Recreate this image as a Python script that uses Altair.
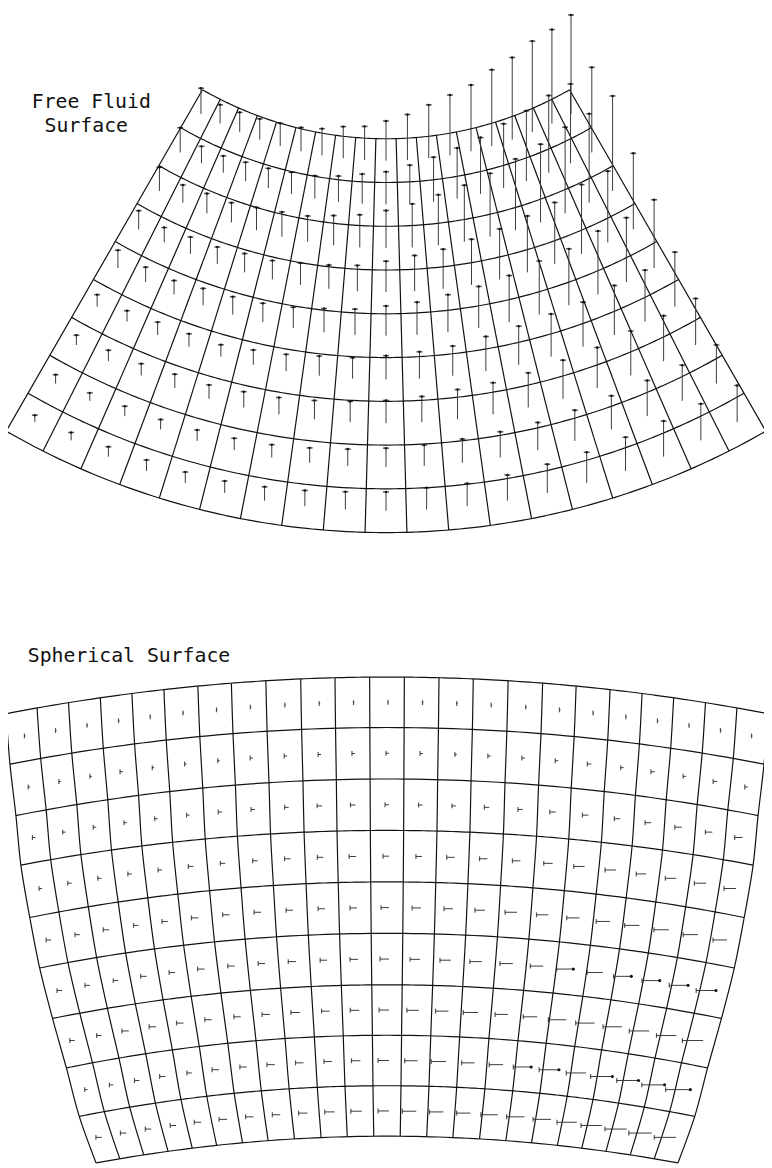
import math
import altair as alt
import pandas as pd

# ---------------- data ----------------
LABEL_TOP = ["Free Fluid", "Surface"]
LABEL_BOTTOM = ["Spherical Surface"]

# Free fluid surface: upward vector length in each cell (9 rows from surface down, 19 columns left->right)
FREE_LEN = [
    [26, 19, 20, 21, 23, 24, 27, 32, 34, 40, 46, 54, 61, 67, 77, 83, 92, 95, 100],
    [25, 17, 17, 19, 20, 22, 23, 26, 30, 33, 39, 45, 51, 57, 65, 71, 78, 80, 86],
    [24, 18, 20, 20, 23, 25, 26, 30, 33, 38, 44, 51, 57, 64, 72, 79, 87, 90, 96],
    [19, 15, 17, 17, 19, 19, 22, 24, 26, 31, 36, 40, 46, 51, 57, 62, 70, 72, 77],
    [18, 15, 14, 17, 18, 19, 21, 24, 26, 30, 33, 38, 42, 47, 54, 57, 64, 65, 69],
    [12, 11, 13, 13, 12, 15, 17, 20, 21, 24, 27, 30, 35, 39, 43, 45, 50, 52, 55],
    [10, 11, 12, 14, 14, 16, 17, 19, 21, 23, 26, 30, 32, 35, 39, 41, 45, 46, 47],
    [9, 8, 10, 10, 11, 12, 13, 15, 17, 19, 21, 24, 26, 28, 31, 34, 36, 36, 39],
    [7, 8, 10, 11, 11, 12, 14, 16, 18, 19, 22, 23, 26, 29, 31, 34, 36, 37, 37],
]

# Spherical surface: horizontal vector length in each cell (9 rows top->bottom, 23 columns)
SPH_LEN = [
    [1, 1, 1, 1, 1, 1, 1, 1, 1, 1, 1, 1, 1, 1, 1, 1, 1, 1, 1, 1, 1, 1, 1],
    [2, 2, 2, 3, 2, 2, 2, 3, 3, 3, 3, 3, 3, 2, 3, 3, 3, 4, 3, 4, 3, 4, 3],
    [3, 3, 3, 3, 3, 3, 4, 4, 4, 5, 5, 4, 4, 4, 5, 5, 6, 6, 6, 6, 7, 7, 8],
    [3, 4, 4, 4, 4, 5, 5, 5, 6, 6, 7, 6, 6, 8, 8, 8, 9, 11, 11, 10, 11, 12, 12],
    [5, 5, 6, 5, 6, 7, 7, 7, 7, 7, 7, 8, 9, 9, 10, 12, 12, 13, 14, 15, 15, 15, 14],
    [5, 5, 5, 6, 6, 7, 7, 7, 8, 7, 8, 9, 10, 11, 12, 13, 13, 17, 16, 18, 18, 19, 20],
    [5, 5, 7, 7, 7, 7, 7, 8, 9, 8, 9, 10, 12, 13, 15, 13, 14, 18, 19, 19, 20, 20, 21],
    [3, 4, 5, 6, 5, 7, 7, 8, 8, 8, 9, 11, 13, 15, 13, 14, 18, 20, 20, 22, 22, 23, 25],
    [6, 6, 6, 6, 7, 8, 8, 8, 9, 10, 11, 11, 14, 14, 14, 17, 18, 18, 20, 21, 22, 23, 22],
]
# cells of the spherical surface whose vector carries a dot at its origin (row, column)
SPH_DOT_ROW = [5, 5, 5, 5, 5, 7, 7, 7, 7, 7, 7]
SPH_DOT_COL = [17, 19, 20, 21, 22, 16, 17, 19, 20, 21, 22]

# ---- grid geometry (drawing units) ----
# free surface mesh: annular sector, centre above
FREE_CENTER = (390.0, -238.0)
FREE_RADII = (372.0, 770.0)
FREE_HALF_ANGLE = 29.9
FREE_NCOL, FREE_NROW = 19, 9

# spherical mesh: parallels (arcs) and meridians
SPH_CX = 391.0
SPH_ARC_Y = [678, 729, 781, 833, 885, 937, 989, 1040, 1091, 1142]     # height of each parallel on the axis
SPH_ARC_SAG = [37, 37, 37, 35, 36, 35, 34, 33, 31, 27]                # drop of each parallel at the edge
SPH_HALF_W = [385, 381, 375, 370, 361, 351, 338, 324, 311, 294]        # half width of each parallel
SPH_EDGE_U = [0.0455, 0.1365, 0.2265, 0.318, 0.4085, 0.4965, 0.5855,
              0.6695, 0.7525, 0.836, 0.9185, 1.0]                      # meridian positions (fraction of half width)


# ---------------- geometry helpers ----------------
def free_xy(r, phi):
    a = math.radians(phi)
    return FREE_CENTER[0] + r * math.sin(a), FREE_CENTER[1] + r * math.cos(a)


def sph_xy(k, u):
    """k: parallel index (may be fractional), u: position across (-1..1)."""
    k0 = min(int(math.floor(k)), len(SPH_ARC_Y) - 2)
    t = k - k0
    w = SPH_HALF_W[k0] * (1 - t) + SPH_HALF_W[k0 + 1] * t
    yc = SPH_ARC_Y[k0] * (1 - t) + SPH_ARC_Y[k0 + 1] * t
    sg = SPH_ARC_SAG[k0] * (1 - t) + SPH_ARC_SAG[k0 + 1] * t
    return SPH_CX + w * u, yc + sg * u * u


free_phi = [-FREE_HALF_ANGLE + k * 2 * FREE_HALF_ANGLE / FREE_NCOL for k in range(FREE_NCOL + 1)]
free_r = [FREE_RADII[0] + k * (FREE_RADII[1] - FREE_RADII[0]) / FREE_NROW for k in range(FREE_NROW + 1)]
sph_u = [-p for p in reversed(SPH_EDGE_U)] + SPH_EDGE_U
n_par = len(SPH_ARC_Y)

line_rows = []   # polylines: arcs and meridians
rule_rows = []   # straight radial lines of the free-surface mesh
NS = 80
for k, r in enumerate(free_r):
    for i in range(NS + 1):
        phi = -FREE_HALF_ANGLE + i * 2 * FREE_HALF_ANGLE / NS
        x, y = free_xy(r, phi)
        line_rows.append({"line": f"fa{k}", "i": i, "x": x, "y": y})
for phi in free_phi:
    x, y = free_xy(free_r[0], phi)
    x2, y2 = free_xy(free_r[-1], phi)
    rule_rows.append({"x": x, "y": y, "x2": x2, "y2": y2})
for k in range(n_par):
    for i in range(NS + 1):
        u = -1 + 2 * i / NS
        x, y = sph_xy(k, u)
        line_rows.append({"line": f"sa{k}", "i": i, "x": x, "y": y})
for j, u in enumerate(sph_u):
    for k in range(n_par):
        x, y = sph_xy(k, u)
        line_rows.append({"line": f"sm{j}", "i": k, "x": x, "y": y})

vec_rows = []
head_v = []   # caps of vertical vectors
tail_h = []   # caps of horizontal vectors
dot_h = []    # dots at origins of some horizontal vectors
dots = set(zip(SPH_DOT_ROW, SPH_DOT_COL))
for i, row in enumerate(FREE_LEN):
    rc = (free_r[i] + free_r[i + 1]) / 2
    for j, L in enumerate(row):
        pc = (free_phi[j] + free_phi[j + 1]) / 2
        x, y = free_xy(rc, pc)
        vec_rows.append({"x": x, "y": y, "x2": x, "y2": y - L})
        head_v.append({"x": x, "y": y - L})
for i, row in enumerate(SPH_LEN):
    for j, L in enumerate(row):
        uc = (sph_u[j] + sph_u[j + 1]) / 2
        x, y = sph_xy(i + 0.5, uc)
        x0 = x + 2
        vec_rows.append({"x": x0 - L, "y": y, "x2": x0, "y2": y})
        tail_h.append({"x": x0 - L, "y": y})
        if (i, j) in dots:
            dot_h.append({"x": x0, "y": y})

labels = pd.DataFrame({
    "label": LABEL_TOP + LABEL_BOTTOM,
    "x": [32, 45, 28],
    "y": [103, 127, 663],
})

# ---------------- chart ----------------
XS = alt.Scale(domain=[8, 772], nice=False, zero=False)
YS = alt.Scale(domain=[1168, 8], nice=False, zero=False)
enc = dict(x=alt.X("x:Q", scale=XS, axis=None), y=alt.Y("y:Q", scale=YS, axis=None))

lines = alt.Chart(pd.DataFrame(line_rows)).mark_line(
    color="#111", strokeWidth=1.2, interpolate="catmull-rom"
).encode(detail="line:N", order="i:Q", **enc)
radials = alt.Chart(pd.DataFrame(rule_rows)).mark_rule(color="#111", strokeWidth=1.2).encode(
    x2="x2:Q", y2="y2:Q", **enc
)
vectors = alt.Chart(pd.DataFrame(vec_rows)).mark_rule(color="#3a3a3a", strokeWidth=1).encode(
    x2="x2:Q", y2="y2:Q", **enc
)
caps = alt.Chart(pd.DataFrame(head_v)).mark_tick(
    orient="horizontal", size=6, thickness=1.5, color="#111"
).encode(**enc)
capdots = alt.Chart(pd.DataFrame(head_v)).mark_point(
    filled=True, size=6, color="#111", opacity=1
).encode(**enc)
ticks = alt.Chart(pd.DataFrame(tail_h)).mark_tick(
    orient="vertical", size=5, thickness=1.2, color="#111"
).encode(**enc)
tipdots = alt.Chart(pd.DataFrame(dot_h)).mark_point(
    filled=True, size=10, color="#111", opacity=1
).encode(**enc)
text = alt.Chart(labels).mark_text(
    align="left", baseline="alphabetic", font="DejaVu Sans Mono", fontSize=20, color="#111"
).encode(text="label:N", **enc)

chart = alt.layer(lines, radials, vectors, caps, capdots, ticks, tipdots, text).properties(
    width=764, height=1160, padding=0, autosize="none", background="white"
).configure_view(stroke=None)

chart.save("out.html", embed_options={"renderer": "svg", "actions": False})
